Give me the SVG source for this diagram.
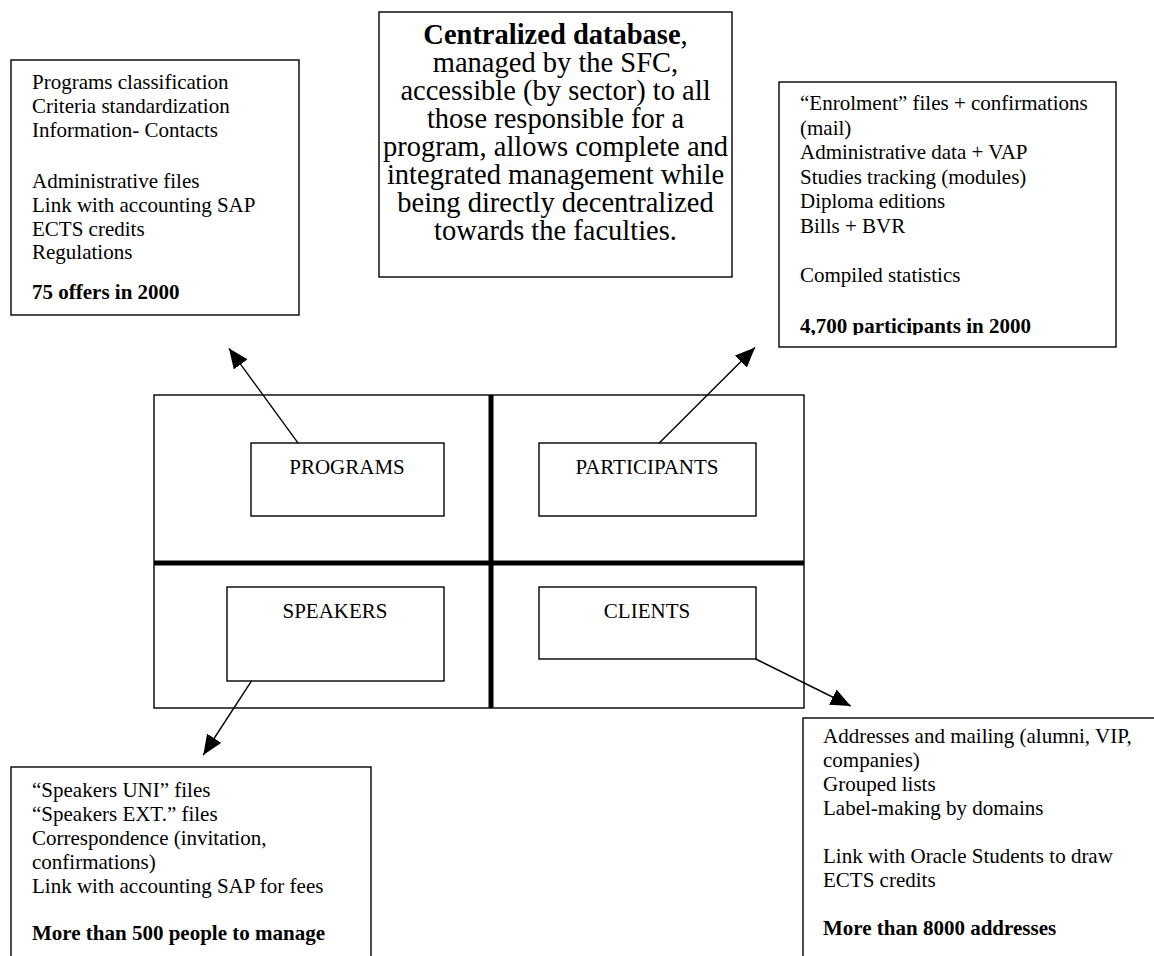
<svg xmlns="http://www.w3.org/2000/svg" width="1154" height="956" viewBox="0 0 1154 956">
<style>
  .box { fill: #fff; stroke: #000; stroke-width: 1.4; }
  .t { font-family: "Liberation Serif", "Times New Roman", serif; font-size: 21px; fill: #000; }
  .c { font-family: "Liberation Serif", "Times New Roman", serif; font-size: 28.5px; fill: #000; text-anchor: middle; }
  .lbl { font-family: "Liberation Serif", "Times New Roman", serif; font-size: 21px; fill: #000; text-anchor: middle; }
  .b { font-weight: bold; }
  .thick { stroke: #000; stroke-width: 5; }
  .conn { stroke: #000; stroke-width: 1.4; fill: none; marker-end: url(#ah); }
</style>
<defs>
  <marker id="ah" viewBox="0 0 20 17" refX="20" refY="8.5" markerWidth="20" markerHeight="17" markerUnits="userSpaceOnUse" orient="auto">
    <path d="M0,0 L20,8.5 L0,17 z" fill="#000"/>
  </marker>
  <clipPath id="clipPart"><rect x="779" y="82" width="337" height="253"/></clipPath>
</defs>
<rect width="1154" height="956" fill="#fff"/>

<g id="programs-info">
  <rect class="box" x="11" y="60" width="288" height="255"/>
  <text class="t" x="32" y="89">Programs classification</text>
  <text class="t" x="32" y="113">Criteria standardization</text>
  <text class="t" x="32" y="137">Information- Contacts</text>
  <text class="t" x="32" y="188">Administrative files</text>
  <text class="t" x="32" y="212">Link with accounting SAP</text>
  <text class="t" x="32" y="236">ECTS credits</text>
  <text class="t" x="32" y="259">Regulations</text>
  <text class="t b" x="32" y="299">75 offers in 2000</text>
</g>

<g id="central-database">
  <rect class="box" x="379" y="12" width="353" height="265"/>
  <text class="c" x="555.5" y="44"><tspan class="b">Centralized database</tspan>,</text>
  <text class="c" x="555.5" y="72">managed by the SFC,</text>
  <text class="c" x="555.5" y="100">accessible (by sector) to all</text>
  <text class="c" x="555.5" y="128">those responsible for a</text>
  <text class="c" x="555.5" y="156">program, allows complete and</text>
  <text class="c" x="555.5" y="184">integrated management while</text>
  <text class="c" x="555.5" y="212">being directly decentralized</text>
  <text class="c" x="555.5" y="240">towards the faculties.</text>
</g>

<g id="participants-info">
  <rect class="box" x="779" y="82" width="337" height="265"/>
  <g clip-path="url(#clipPart)">
    <text class="t" x="800" y="110">“Enrolment” files + confirmations</text>
    <text class="t" x="800" y="134.5">(mail)</text>
    <text class="t" x="800" y="159">Administrative data + VAP</text>
    <text class="t" x="800" y="183.5">Studies tracking (modules)</text>
    <text class="t" x="800" y="208">Diploma editions</text>
    <text class="t" x="800" y="232.5">Bills + BVR</text>
    <text class="t" x="800" y="281.5">Compiled statistics</text>
    <text class="t b" x="800" y="333">4,700 participants in 2000</text>
  </g>
</g>

<g id="grid">
  <rect class="box" x="154" y="395" width="650" height="313"/>
  <line class="thick" x1="491" y1="395" x2="491" y2="708"/>
  <line class="thick" x1="154" y1="563" x2="804" y2="563"/>
</g>

<g id="programs">
  <rect class="box" x="251" y="443" width="193" height="73"/>
  <text class="lbl" x="347" y="474">PROGRAMS</text>
</g>
<g id="participants">
  <rect class="box" x="539" y="443" width="217" height="73"/>
  <text class="lbl" x="647" y="474">PARTICIPANTS</text>
</g>
<g id="speakers">
  <rect class="box" x="227" y="587" width="217" height="94"/>
  <text class="lbl" x="335" y="618">SPEAKERS</text>
</g>
<g id="clients">
  <rect class="box" x="539" y="587" width="217" height="72"/>
  <text class="lbl" x="647" y="618">CLIENTS</text>
</g>

<g id="speakers-info">
  <rect class="box" x="11" y="767" width="360" height="220"/>
  <text class="t" x="32" y="797">“Speakers UNI” files</text>
  <text class="t" x="32" y="821">“Speakers EXT.” files</text>
  <text class="t" x="32" y="844.5">Correspondence (invitation,</text>
  <text class="t" x="32" y="868.5">confirmations)</text>
  <text class="t" x="32" y="892.5">Link with accounting SAP for fees</text>
  <text class="t b" x="32" y="940">More than 500 people to manage</text>
</g>

<g id="clients-info">
  <rect class="box" x="803" y="718" width="380" height="280"/>
  <text class="t" x="823" y="743">Addresses and mailing (alumni, VIP,</text>
  <text class="t" x="823" y="767">companies)</text>
  <text class="t" x="823" y="791">Grouped lists</text>
  <text class="t" x="823" y="815">Label-making by domains</text>
  <text class="t" x="823" y="863">Link with Oracle Students to draw</text>
  <text class="t" x="823" y="887">ECTS credits</text>
  <text class="t b" x="823" y="935">More than 8000 addresses</text>
</g>

<g id="connectors">
  <line class="conn" x1="298.3" y1="443.3" x2="228.9" y2="348.3"/>
  <line class="conn" x1="659" y1="443.3" x2="755" y2="347.5"/>
  <line class="conn" x1="251.7" y1="680.7" x2="203.3" y2="755"/>
  <line class="conn" x1="755.7" y1="659" x2="850.7" y2="706"/>
</g>
</svg>
